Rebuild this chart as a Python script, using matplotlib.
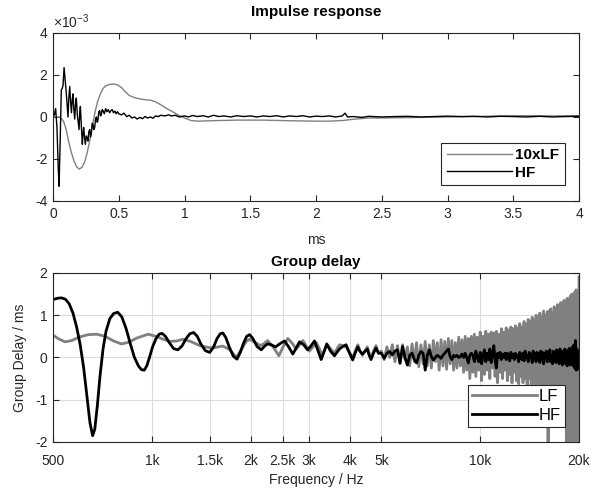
import matplotlib
matplotlib.use("Agg")
import matplotlib.pyplot as plt
from matplotlib.ticker import FixedLocator, NullLocator

plt.rcParams['font.family'] = ['Liberation Sans', 'DejaVu Sans']
plt.rcParams['mathtext.fontset'] = 'custom'
plt.rcParams['mathtext.rm'] = 'Liberation Sans'
plt.rcParams['mathtext.it'] = 'Liberation Sans'
plt.rcParams['axes.unicode_minus'] = False

# ---- impulse response (x1e-3) ----
t_hf = [0, 0.01, 0.02, 0.03, 0.04, 0.046, 0.055, 0.063, 0.07, 0.076, 0.084, 0.092, 0.1, 0.107,
        0.114, 0.12, 0.127, 0.134, 0.14, 0.146, 0.152, 0.158, 0.165, 0.171, 0.177, 0.185, 0.192,
        0.198, 0.203, 0.208, 0.215, 0.223, 0.228, 0.233, 0.24, 0.246, 0.253, 0.26, 0.266, 0.272,
        0.279, 0.285, 0.291, 0.298, 0.304, 0.31, 0.317, 0.323, 0.33, 0.336, 0.342, 0.348, 0.355,
        0.361, 0.367, 0.374, 0.38, 0.39, 0.4, 0.41, 0.42, 0.43, 0.44, 0.45, 0.46, 0.47, 0.48,
        0.49, 0.5, 0.52, 0.54, 0.56, 0.58, 0.6, 0.62, 0.64, 0.66, 0.68, 0.7, 0.72, 0.74, 0.76,
        0.78, 0.8, 0.82, 0.85, 0.88, 0.9, 0.93, 0.96, 1.0, 1.03, 1.06, 1.1, 1.14, 1.18, 1.22,
        1.26, 1.3, 1.35, 1.4, 1.45, 1.5, 1.55, 1.6, 1.65, 1.7, 1.75, 1.8, 1.85, 1.9, 1.95, 2.0,
        2.05, 2.1, 2.15, 2.2, 2.22, 2.24, 2.28, 2.35, 2.4, 2.5, 2.6, 2.7, 2.8, 2.9, 3.0, 3.1,
        3.2, 3.3, 3.4, 3.5, 3.6, 3.7, 3.8, 3.9, 4.0]
ir_hf = [0, 0.1, 0.4, -0.5, -2.5, -3.3, -1.0, 1.3, 1.35, 1.5, 2.35, 1.8, 1.2, 0.6,
         0.0, 0.9, 1.45, 0.7, 0.2, 0.8, 1.1, 0.4, -0.1, 0.6, 0.9, 0.1, -0.3,
         -0.6, 0.2, 0.5, -0.4, -1.3, -0.8, -0.5, -1.0, -1.3, -0.9, -1.0, -1.15, -0.7,
         -0.6, -0.95, -0.8, -0.3, -0.35, -0.6, -0.5, -0.1, 0.0, -0.25, -0.15, 0.25, 0.3,
         0.05, 0.1, 0.35, 0.3, 0.15, 0.4, 0.25, 0.35, 0.2, 0.3, 0.35, 0.2, 0.28, 0.15,
         0.25, 0.15, 0.1, 0.18, 0.02, 0.08, -0.05, 0.0, -0.1, -0.02, -0.08, 0.02, -0.05, 0.0, -0.06,
         0.05, 0.02, 0.08, 0.05, 0.1, 0.05, 0.08, 0.0, 0.05, 0.0, 0.07, 0.02, 0.06, 0.0, 0.08,
         0.02, 0.05, 0.0, 0.06, 0.02, 0.05, 0.0, 0.05, 0.02, 0.06, 0.0, 0.05, 0.02, 0.06, 0.0, 0.04,
         0.02, 0.05, 0.0, 0.05, 0.18, 0.0, 0.02, -0.02, 0.03, 0.0, 0.02, 0.03, 0.0, 0.02, 0.04, 0.02,
         0.03, 0.0, 0.03, 0.02, 0.0, 0.03, 0.0, 0.02, 0.03]

t_lf = [0, 0.05, 0.08, 0.1, 0.12, 0.14, 0.16, 0.18, 0.2, 0.22, 0.24, 0.26, 0.28, 0.3, 0.32,
        0.34, 0.36, 0.38, 0.4, 0.43, 0.46, 0.49, 0.52, 0.55, 0.58, 0.62, 0.66, 0.7, 0.74, 0.78,
        0.82, 0.86, 0.9, 0.95, 1.0, 1.05, 1.1, 1.2, 1.4, 1.6, 1.8, 2.0, 2.1, 2.2, 2.3, 2.4, 2.6,
        2.8, 3.0, 3.2, 3.4, 3.6, 3.8, 4.0]
ir_lf = [0, 0.0, -0.2, -0.6, -1.2, -1.7, -2.1, -2.38, -2.48, -2.4, -2.15, -1.7, -1.1, -0.4, 0.25,
         0.75, 1.1, 1.35, 1.48, 1.55, 1.57, 1.53, 1.4, 1.2, 1.02, 0.92, 0.86, 0.82, 0.8, 0.72,
         0.58, 0.42, 0.28, 0.1, -0.05, -0.17, -0.2, -0.18, -0.15, -0.15, -0.18, -0.2, -0.2, -0.17,
         -0.1, -0.05, -0.04, -0.02, 0.0, 0.02, 0.05, 0.06, 0.05, 0.06]

# ---- group delay (ms) ----
f_hf_low = [500, 515, 530, 545, 560, 575, 590, 605, 620, 635, 648, 660, 670, 682, 695, 710, 725,
            745, 765, 787, 810, 835, 860, 885, 910, 930, 948, 965, 985, 1005, 1030, 1052, 1074,
            1100, 1130, 1165, 1200, 1235, 1270, 1305, 1340, 1375, 1410, 1455, 1500, 1540, 1580,
            1615, 1645, 1680, 1720, 1770, 1816, 1860, 1900, 1945, 1985, 2030, 2090, 2154, 2200,
            2251, 2310, 2381, 2460, 2536, 2610, 2688, 2750, 2817, 2900, 2980, 3050, 3129, 3200,
            3278, 3340, 3409, 3500, 3599, 3660, 3727, 3800, 3905, 4000, 4089, 4160, 4236, 4300,
            4377, 4450, 4533, 4590, 4651, 4730, 4815, 4900]
gd_hf_low = [1.37, 1.40, 1.41, 1.38, 1.27, 1.05, 0.72, 0.30, -0.25, -0.95, -1.55, -1.85, -1.70,
             -1.15, -0.45, 0.20, 0.62, 0.92, 1.04, 1.07, 0.96, 0.68, 0.32, 0.00, -0.20, -0.29,
             -0.30, -0.20, 0.02, 0.25, 0.45, 0.55, 0.57, 0.50, 0.35, 0.21, 0.18, 0.27, 0.44, 0.56,
             0.59, 0.50, 0.32, 0.16, 0.12, 0.24, 0.45, 0.56, 0.58, 0.47, 0.25, 0.03, -0.04, 0.12,
             0.33, 0.50, 0.54, 0.45, 0.26, 0.18, 0.26, 0.32, 0.30, 0.25, 0.33, 0.39, 0.25, 0.08,
             0.22, 0.37, 0.30, 0.18, 0.27, 0.39, 0.18, -0.05, 0.12, 0.32, 0.15, 0.04, 0.12, 0.20,
             0.25, 0.30, 0.10, -0.06, 0.10, 0.25, 0.15, 0.08, 0.14, 0.20, 0.05, -0.05, 0.10, 0.22,
             0.10]

f_lf_low = [500, 520, 544, 570, 600, 640, 679, 720, 765, 808, 850, 900, 974, 1040, 1090, 1134,
            1190, 1245, 1310, 1400, 1500, 1570, 1645, 1730, 1808, 1870, 1940, 1985, 2060, 2140,
            2200, 2251, 2340, 2437, 2520, 2595, 2680, 2752, 2820, 2885, 2950, 3020, 3100, 3170,
            3240, 3300, 3360, 3420, 3510, 3600, 3660, 3730, 3820, 3900, 4000, 4090, 4160, 4240,
            4310, 4380, 4460, 4530, 4590, 4650, 4730, 4815, 4900]
gd_lf_low = [0.53, 0.44, 0.37, 0.40, 0.48, 0.54, 0.55, 0.50, 0.39, 0.32, 0.36, 0.46, 0.55, 0.49,
             0.42, 0.38, 0.39, 0.43, 0.38, 0.28, 0.23, 0.24, 0.27, 0.18, 0.00, 0.18, 0.38, 0.43,
             0.36, 0.28, 0.33, 0.40, 0.25, 0.04, 0.28, 0.45, 0.33, 0.20, 0.30, 0.40, 0.28, 0.15,
             0.26, 0.35, 0.20, 0.05, 0.18, 0.30, 0.20, 0.10, 0.20, 0.30, 0.28, 0.25, 0.12, 0.00,
             0.15, 0.30, 0.15, 0.05, 0.16, 0.25, 0.10, 0.00, 0.15, 0.28, 0.10]

f_high = [5000, 5100, 5200, 5300, 5400, 5500, 5600, 5700, 5800, 5900,
          6000, 6100, 6200, 6300, 6400, 6500, 6600, 6700, 6800, 6900,
          7000, 7100, 7200, 7300, 7400, 7500, 7600, 7700, 7800, 7900,
          8000, 8100, 8200, 8300, 8400, 8500, 8600, 8700, 8800, 8900,
          9000, 9100, 9200, 9300, 9400, 9500, 9600, 9700, 9800, 9900,
          10000, 10100, 10200, 10300, 10400, 10500, 10600, 10700, 10800, 10900,
          11000, 11100, 11200, 11300, 11400, 11500, 11600, 11700, 11800, 11900,
          12000, 12100, 12200, 12300, 12400, 12500, 12600, 12700, 12800, 12900,
          13000, 13100, 13200, 13300, 13400, 13500, 13600, 13700, 13800, 13900,
          14000, 14100, 14200, 14300, 14400, 14500, 14600, 14700, 14800, 14900,
          15000, 15100, 15200, 15300, 15400, 15500, 15600, 15700, 15800, 15900,
          16000, 16100, 16200, 16300, 16400, 16500, 16600, 16700, 16800, 16900,
          17000, 17100, 17200, 17300, 17400, 17500, 17600, 17700, 17800, 17900,
          18000, 18100, 18200, 18300, 18400, 18500, 18600, 18700, 18800, 18900,
          19000, 19100, 19200, 19300, 19400, 19500, 19600, 19700, 19800, 19900,
          20000]
gd_lf_high = [0.15, -0.05, 0.25, 0.00, 0.30, -0.10, 0.28, -0.15, 0.30, -0.05,
              0.25, -0.20, 0.32, -0.10, 0.35, -0.22, 0.30, -0.15, 0.38, -0.20,
              0.30, -0.25, 0.40, -0.10, 0.35, -0.30, 0.42, -0.20, 0.38, -0.28,
              0.45, -0.15, 0.40, -0.30, 0.35, -0.25, 0.48, -0.20, 0.42, -0.35,
              0.50, -0.30, 0.45, -0.50, 0.50, -0.35, 0.55, -0.45, 0.48, -0.30,
              0.60, -0.55, 0.50, -0.40, 0.62, -0.30, 0.55, -0.50, 0.60, -0.25,
              0.58, -0.45, 0.62, -0.60, 0.55, -0.35, 0.68, -0.50, 0.60, -0.30,
              0.70, -0.55, 0.65, -0.40, 0.72, -0.60, 0.68, -0.35, 0.75, -0.55,
              0.70, -0.62, 0.80, -0.45, 0.72, -0.60, 0.85, -0.50, 0.78, -0.65,
              0.90, -0.50, 0.85, -0.70, 0.95, -0.60, 0.88, -0.75, 1.00, -0.55,
              0.92, -0.80, 1.05, -0.65, 0.95, -0.85, 1.10, -0.70, 1.00, -0.90,
              1.08, -2.00, 1.10, -0.80, 1.15, -0.95, 1.05, -0.75, 1.20, -0.90,
              1.12, -1.00, 1.25, -0.85, 1.18, -1.10, 1.30, -0.95, 1.22, -1.20,
              1.35, -1.00, 1.30, -2.00, 1.40, -1.30, 1.25, -2.00, 1.45, -1.10,
              1.50, -2.00, 1.40, -1.50, 1.55, -2.00, 1.60, -2.00, 1.45, -2.00,
              1.90]
gd_hf_high = [0.10, -0.02, 0.10, 0.14, 0.06, 0.15, 0.18, -0.13, 0.26, 0.00,
              -0.18, 0.05, 0.10, -0.05, -0.13, 0.05, 0.14, 0.10, -0.30, 0.05,
              0.18, 0.02, -0.06, 0.00, 0.05, 0.02, -0.02, 0.05, 0.10, 0.15,
              0.20, 0.02, -0.05, 0.05, 0.02, 0.05, 0.00, 0.02, 0.08, 0.00,
              0.10, 0.00, -0.13, 0.05, 0.10, 0.05, -0.10, 0.15, 0.00, -0.10,
              0.12, -0.15, 0.05, 0.18, -0.10, 0.10, -0.05, 0.20, -0.12, 0.05,
              0.28, -0.05, -0.25, 0.10, 0.00, 0.12, -0.05, 0.08, 0.00, 0.10,
              -0.05, 0.10, 0.02, -0.08, 0.12, 0.00, 0.08, -0.05, 0.10, 0.00,
              0.05, -0.10, 0.12, 0.02, -0.05, 0.10, -0.08, 0.15, 0.00, 0.05,
              -0.10, 0.12, 0.00, 0.08, -0.12, 0.15, -0.05, 0.10, -0.10, 0.12,
              0.00, 0.08, -0.12, 0.15, -0.05, 0.12, -0.15, 0.10, 0.00, 0.15,
              -0.10, 0.12, -0.08, 0.18, -0.10, 0.05, -0.15, 0.15, -0.05, 0.10,
              -0.12, 0.18, -0.10, 0.12, -0.15, 0.20, -0.05, 0.15, -0.18, 0.10,
              0.00, 0.20, -0.15, 0.12, -0.20, 0.18, -0.10, 0.22, -0.18, 0.15,
              -0.12, 0.25, -0.20, 0.30, -0.25, 0.40, -0.30, 0.20, -0.28, 0.15,
              0.05]

x_ticks_ir = [0, 0.5, 1, 1.5, 2, 2.5, 3, 3.5, 4]
y_ticks_ir = [-4, -2, 0, 2, 4]
f_ticks = [500, 1000, 1500, 2000, 2500, 3000, 4000, 5000, 10000, 20000]
f_tick_labels = ['500', '1k', '1.5k', '2k', '2.5k', '3k', '4k', '5k', '10k', '20k']
y_ticks_gd = [-2, -1, 0, 1, 2]

axcol = '#262626'
gray = '#808080'

fig = plt.figure(figsize=(6.06, 4.90), dpi=100)
ax1 = fig.add_axes([0.0875, 0.5898, 0.868, 0.343])
ax2 = fig.add_axes([0.0875, 0.098, 0.868, 0.345])

for ax in (ax1, ax2):
    for s in ax.spines.values():
        s.set_color(axcol)
        s.set_linewidth(0.8)
    ax.tick_params(direction='in', top=True, right=True, length=4, width=0.8,
                   colors=axcol, labelsize=10, pad=4)
ax2.tick_params(axis='x', pad=9)

# top
ax1.plot(t_lf, ir_lf, color=gray, lw=1.0, label='10xLF')
ax1.plot(t_hf, ir_hf, color='black', lw=1.0, label='HF')
ax1.set_xlim(0, 4)
ax1.set_ylim(-4, 4)
ax1.set_xticks(x_ticks_ir)
ax1.set_xticklabels(['0', '0.5', '1', '1.5', '2', '2.5', '3', '3.5', '4'])
ax1.set_yticks(y_ticks_ir)
ax1.set_yticklabels([str(v) for v in y_ticks_ir])
ax1.set_xlabel('ms', fontsize=10, color=axcol, labelpad=9)
ax1.set_title('Impulse response', fontsize=11, fontweight='bold', pad=12)
ax1.text(0.0, 1.01, r'$\times10^{-3}$', transform=ax1.transAxes, fontsize=10,
         color=axcol, ha='left', va='bottom')
leg1 = ax1.legend(loc='lower right', bbox_to_anchor=(0.973, 0.095), borderaxespad=0,
                  handlelength=4.3, fancybox=False, framealpha=1, edgecolor=axcol,
                  prop={'weight': 'bold', 'size': 11}, borderpad=0.35, labelspacing=0.25,
                  handletextpad=0.2)
leg1.get_frame().set_linewidth(0.8)

# bottom
ax2.semilogx(f_lf_low + f_high, gd_lf_low + gd_lf_high, color=gray, lw=2.0, label='LF')
ax2.semilogx(f_hf_low + f_high, gd_hf_low + gd_hf_high, color='black', lw=2.0, label='HF')
ax2.set_xlim(500, 20000)
ax2.set_ylim(-2, 2)
ax2.xaxis.set_major_locator(FixedLocator(f_ticks))
ax2.xaxis.set_minor_locator(NullLocator())
ax2.set_xticklabels(f_tick_labels)
ax2.set_yticks(y_ticks_gd)
ax2.set_yticklabels([str(v) for v in y_ticks_gd])
ax2.grid(True, color='#dcdcdc', lw=0.8)
ax2.set_axisbelow(True)
ax2.set_xlabel('Frequency / Hz', fontsize=10, color=axcol, labelpad=3)
ax2.set_ylabel('Group Delay / ms', fontsize=10, color=axcol, labelpad=6)
ax2.set_title('Group delay', fontsize=11, fontweight='bold', pad=5)
leg2 = ax2.legend(loc='lower right', bbox_to_anchor=(0.973, 0.09), borderaxespad=0,
                  handlelength=3.9, fancybox=False, framealpha=1, edgecolor=axcol,
                  prop={'size': 12}, borderpad=0.25, labelspacing=0.2, handletextpad=0.1)
leg2.get_frame().set_linewidth(0.8)

fig.savefig('out.png', dpi=100)
